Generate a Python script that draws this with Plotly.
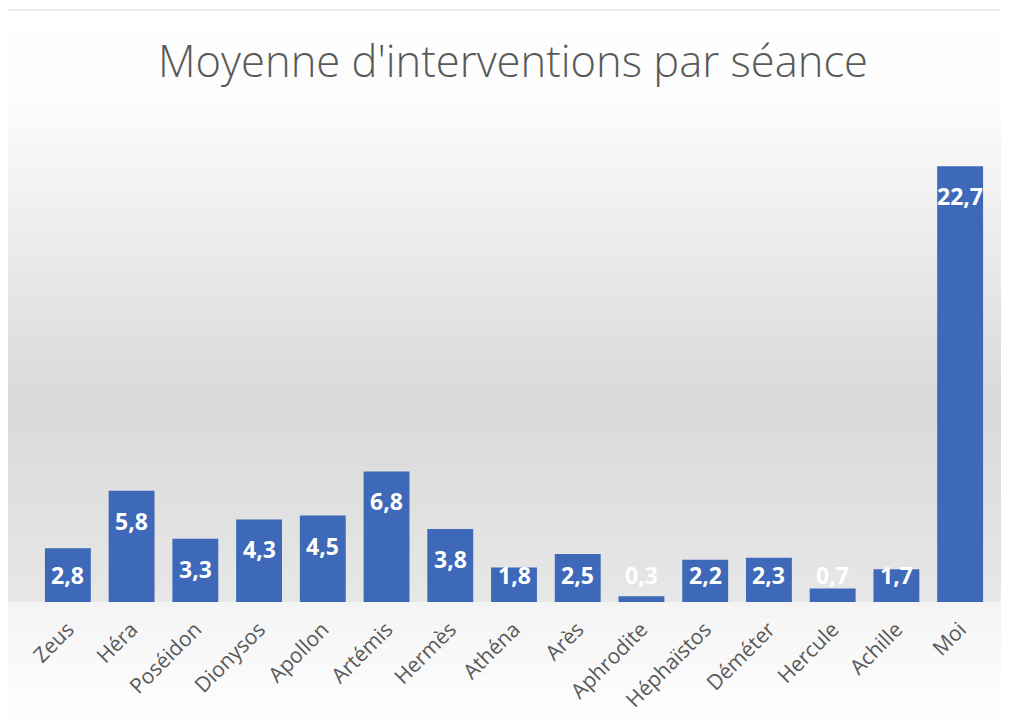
import plotly.graph_objects as go

categories = ["Zeus", "Héra", "Poséidon", "Dionysos", "Apollon", "Artémis", "Hermès",
              "Athéna", "Arès", "Aphrodite", "Héphaïstos", "Déméter", "Hercule", "Achille", "Moi"]
values = [2.8, 5.8, 3.3, 4.3, 4.5, 6.8, 3.8, 1.8, 2.5, 0.3, 2.2, 2.3, 0.7, 1.7, 22.7]
title_text = "Moyenne d'interventions par séance"

OFF = 8  # page body margin
W, H = 1001, 716
ML, MR, MT, MB = 28, 17, 114, 122
PW, PH = W - ML - MR, H - MT - MB


def px_x(px):
    return (px - OFF - ML) / PW


def px_y(py):
    return (H - MB - (py - OFF)) / PH


def lerp_col(stops, py):
    for (y0, c0), (y1, c1) in zip(stops, stops[1:]):
        if y0 <= py <= y1:
            t = (py - y0) / (y1 - y0) if y1 > y0 else 0
            v = round(c0 + (c1 - c0) * t)
            return f"rgb({v},{v},{v})"
    v = stops[-1][1]
    return f"rgb({v},{v},{v})"


shapes = []
stops_top = [(10, 255), (100, 252), (400, 217), (602, 231)]
stops_bot = [(602, 244), (730, 255)]
step = 4
y = 10
while y < 602:
    y2 = min(y + step, 602)
    shapes.append(dict(type="rect", xref="paper", yref="paper",
                       x0=px_x(0), x1=px_x(1005), y0=px_y(y2), y1=px_y(y),
                       fillcolor=lerp_col(stops_top, (y + y2) / 2), line_width=0, layer="below"))
    y = y2
y = 602
while y < 740:
    y2 = y + step
    shapes.append(dict(type="rect", xref="paper", yref="paper",
                       x0=px_x(0), x1=px_x(1005), y0=px_y(y2), y1=px_y(y),
                       fillcolor=lerp_col(stops_bot, (y + y2) / 2), line_width=0, layer="below"))
    y = y2
shapes.append(dict(type="rect", xref="paper", yref="paper",
                   x0=px_x(3), x1=px_x(1005), y0=px_y(760), y1=px_y(10),
                   line=dict(color="#d9d9d9", width=1), fillcolor="rgba(0,0,0,0)", layer="below"))

fig = go.Figure(go.Bar(
    x=categories, y=values,
    marker=dict(color="#3e69b8", line_width=0),
    hoverinfo="skip",
))

label_font = dict(family="Open Sans", size=23, color="white", weight="bold")
annotations = []
for c, v in zip(categories, values):
    if v < 3.0:
        annotations.append(dict(x=c, y=0, xref="x", yref="y", text=f"{v:.1f}".replace(".", ","),
                                showarrow=False, yanchor="middle", yshift=27, font=label_font))
    else:
        annotations.append(dict(x=c, y=v, xref="x", yref="y", text=f"{v:.1f}".replace(".", ","),
                                showarrow=False, yanchor="middle", yshift=-30, font=label_font))

fig.update_layout(
    width=W, height=H,
    margin=dict(l=ML, r=MR, t=MT, b=MB),
    paper_bgcolor="white",
    plot_bgcolor="rgba(0,0,0,0)",
    bargap=0.28,
    showlegend=False,
    shapes=shapes,
    annotations=annotations,
    title=dict(text=title_text, x=px_x(513), xref="paper", xanchor="center",
               y=1 - (62 - OFF) / H, yref="container", yanchor="middle",
               font=dict(family="Open Sans", size=43.5, color="#595959", weight=300)),
    xaxis=dict(tickangle=-45, tickfont=dict(family="Open Sans", size=21, color="#595959"),
               ticklabelstandoff=10,
               showgrid=False, showline=False, ticks="", zeroline=False),
    yaxis=dict(range=[0, 25], visible=False, showgrid=False, zeroline=False),
)

fig.write_html("out.html")
